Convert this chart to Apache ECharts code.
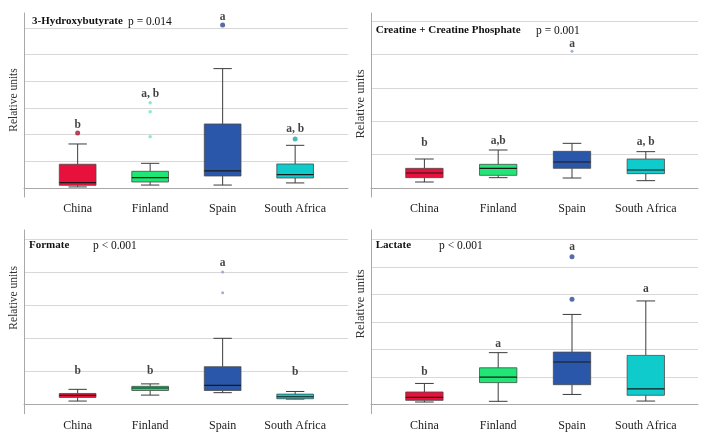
<!DOCTYPE html>
<html>
<head>
<meta charset="utf-8">
<script src="https://cdn.jsdelivr.net/npm/echarts@6/dist/echarts.min.js"></script>
<style>
html,body{margin:0;padding:0;background:#fff;}
#main{width:710px;height:441px;}
</style>
</head>
<body>
<div id="main"></div>
<script>
// ---------- DATA ----------
const categories = ['China', 'Finland', 'Spain', 'South Africa'];
const boxColors = ['#E8103C', '#20E676', '#2A57A9', '#0FCBCB'];

// [min, Q1, median, Q3, max] per category
const hbStats = [[0.04, 0.10, 0.20, 0.89, 1.65], [0.11, 0.225, 0.39, 0.625, 0.925], [0.11, 0.45, 0.64, 2.40, 4.475], [0.19, 0.375, 0.50, 0.90, 1.60]];
const hbOutliers = [[0, 2.06], [1, 3.20], [1, 2.86], [1, 1.925], [2, 6.11], [3, 1.84]];
const hbLetters = ['b', 'a, b', 'a', 'a, b'];
const hbLetterY = [2.375, 3.54, 6.41, 2.21];

const crStats = [[0.18, 0.31, 0.45, 0.59, 0.87], [0.31, 0.38, 0.59, 0.71, 1.14], [0.30, 0.59, 0.78, 1.10, 1.34], [0.22, 0.43, 0.54, 0.87, 1.09]];
const crOutliers = [[2, 4.10]];
const crLetters = ['b', 'a,b', 'a', 'a, b'];
const crLetterY = [1.35, 1.40, 4.32, 1.37];

const foStats = [[0.10, 0.21, 0.27, 0.33, 0.455], [0.28, 0.42, 0.495, 0.545, 0.62], [0.354, 0.42, 0.576, 1.14, 2.00], [0.16, 0.17, 0.23, 0.31, 0.39]];
const foOutliers = [[2, 4.01], [2, 3.38]];
const foLetters = ['b', 'b', 'a', 'b'];
const foLetterY = [1.01, 1.01, 4.29, 0.98];

const laStats = [[0.085, 0.145, 0.255, 0.45, 0.76], [0.11, 0.79, 0.99, 1.33, 1.88], [0.36, 0.715, 1.54, 1.90, 3.27], [0.12, 0.33, 0.56, 1.78, 3.76]];
const laOutliers = [[2, 5.37], [2, 3.82]];
const laLetters = ['b', 'a', 'a', 'a'];
const laLetterY = [1.18, 2.21, 5.72, 4.18];

const hbGridVals = [0, 1, 2, 3, 4, 5, 6];
const crGridVals = [0, 1, 2, 3, 4, 5];
const foGridVals = [0, 1, 2, 3, 4, 5];
const laGridVals = [0, 1, 2, 3, 4, 5, 6];

// ---------- LAYOUT ----------
const FONT = '"Liberation Serif", "DejaVu Serif", serif';
const panels = [
  { stats: hbStats, outliers: hbOutliers, letters: hbLetters, letterY: hbLetterY, gridVals: hbGridVals,
    outlierColors: ['#B0102E', '#66E8C0', '#2A4A94', '#1FA8A8'], outlierSize: [5, 3.5, 5, 5],
    name: '3-Hydroxybutyrate', p: 'p = 0.014', nameX: 32, pX: 128, titleY: 16,
    outer: { left: 24, top: 13, width: 324, height: 184 }, inner: { left: 41.4, width: 290 },
    yMin: -0.3375, yMax: 6.56, axisNameSize: 11.5, axisNamePad: [0, 0, 0, 10] },
  { stats: crStats, outliers: crOutliers, letters: crLetters, letterY: crLetterY, gridVals: crGridVals,
    outlierColors: ['#8C9BD0', '#8C9BD0', '#8C9BD0', '#8C9BD0'], outlierSize: [3, 3, 3, 3],
    name: 'Creatine + Creatine Phosphate', p: 'p = 0.001', nameX: 375.7, pX: 536, titleY: 25,
    outer: { left: 371, top: 13, width: 327, height: 184 }, inner: { left: 387.5, width: 295.2 },
    yMin: -0.27, yMax: 5.25, axisNameSize: 12.5, axisNamePad: [0, 0, 0, 2] },
  { stats: foStats, outliers: foOutliers, letters: foLetters, letterY: foLetterY, gridVals: foGridVals,
    outlierColors: ['#8C9BD0', '#8C9BD0', '#8C9BD0', '#8C9BD0'], outlierSize: [3, 3, 3, 3],
    name: 'Formate', p: 'p < 0.001', nameX: 29, pX: 93, titleY: 240,
    outer: { left: 24, top: 230, width: 324, height: 183.7 }, inner: { left: 41.4, width: 290 },
    yMin: -0.283, yMax: 5.28, axisNameSize: 11.5, axisNamePad: [0, 0, 0, 48] },
  { stats: laStats, outliers: laOutliers, letters: laLetters, letterY: laLetterY, gridVals: laGridVals,
    outlierColors: ['#2A4A94', '#2A4A94', '#2A4A94', '#2A4A94'], outlierSize: [5, 5, 5, 5],
    name: 'Lactate', p: 'p < 0.001', nameX: 375.7, pX: 439, titleY: 240,
    outer: { left: 371, top: 230, width: 327, height: 183.7 }, inner: { left: 387.5, width: 295.2 },
    yMin: -0.34, yMax: 6.34, axisNameSize: 12.5, axisNamePad: [0, 0, 0, 36] }
];

// ---------- BUILD ----------
const option = { animation: false, backgroundColor: '#fff', title: [], grid: [], xAxis: [], yAxis: [], series: [] };

function makeRender(colors) {
  return function (params, api) {
    const c = api.value(0);
    const mn = api.coord([c, api.value(1)]);
    const q1 = api.coord([c, api.value(2)]);
    const md = api.coord([c, api.value(3)]);
    const q3 = api.coord([c, api.value(4)]);
    const mx = api.coord([c, api.value(5)]);
    const band = api.size([1, 0])[0];
    const hw = band * 0.253;
    const cw = hw * 0.5;
    const x = mn[0];
    const wStyle = { stroke: '#3c3c3c', lineWidth: 1 };
    return {
      type: 'group',
      children: [
        { type: 'line', shape: { x1: x, y1: mx[1], x2: x, y2: q3[1] }, style: wStyle },
        { type: 'line', shape: { x1: x, y1: q1[1], x2: x, y2: mn[1] }, style: wStyle },
        { type: 'line', shape: { x1: x - cw, y1: mx[1], x2: x + cw, y2: mx[1] }, style: wStyle },
        { type: 'line', shape: { x1: x - cw, y1: mn[1], x2: x + cw, y2: mn[1] }, style: wStyle },
        { type: 'rect', shape: { x: x - hw, y: q3[1], width: 2 * hw, height: q1[1] - q3[1] },
          style: { fill: colors[c], stroke: '#4a4a4a', lineWidth: 0.8 } },
        { type: 'line', shape: { x1: x - hw, y1: md[1], x2: x + hw, y2: md[1] }, style: { stroke: '#1a1a1a', lineWidth: 1.2 } }
      ]
    };
  };
}

panels.forEach((pn, i) => {
  const og = i * 2, ig = i * 2 + 1;
  option.grid.push({ left: pn.outer.left, top: pn.outer.top, width: pn.outer.width, height: pn.outer.height, containLabel: false });
  option.grid.push({ left: pn.inner.left, top: pn.outer.top, width: pn.inner.width, height: pn.outer.height, containLabel: false });

  // outer axes: frame + gridlines
  option.xAxis.push({ gridIndex: og, type: 'value', min: 0, max: 1, z: 0,
    axisLine: { show: true, lineStyle: { color: '#a8a8a8', width: 1 } },
    axisTick: { show: false }, axisLabel: { show: false }, splitLine: { show: false } });
  option.yAxis.push({ gridIndex: og, type: 'value', min: pn.yMin, max: pn.yMax, z: 0,
    axisLine: { show: true, lineStyle: { color: '#a8a8a8', width: 1 } },
    axisTick: { show: false }, axisLabel: { show: false }, splitLine: { show: false },
    name: 'Relative units', nameLocation: 'middle', nameGap: 4,
    nameTextStyle: { fontFamily: FONT, fontSize: pn.axisNameSize, color: '#333', padding: pn.axisNamePad } });
  // inner axes: categories
  option.xAxis.push({ gridIndex: ig, type: 'category', data: categories,
    axisLine: { show: false }, axisTick: { show: false }, splitLine: { show: false },
    axisLabel: { interval: 0, fontFamily: FONT, fontSize: 12, color: '#222', margin: 6 } });
  option.yAxis.push({ gridIndex: ig, type: 'value', min: pn.yMin, max: pn.yMax, show: false, splitLine: { show: false } });

  // gridlines
  option.series.push({ type: 'line', xAxisIndex: og, yAxisIndex: og, data: [], silent: true, z: 0,
    markLine: { silent: true, symbol: 'none', animation: false, z: 0, label: { show: false },
      lineStyle: { color: '#d8d8d8', type: 'solid', width: 1 },
      data: pn.gridVals.map(v => ({ yAxis: v })) } });

  // boxes
  option.series.push({ type: 'custom', xAxisIndex: ig, yAxisIndex: ig, z: 10,
    renderItem: makeRender(boxColors),
    encode: { x: 0, y: [1, 2, 3, 4, 5] },
    data: pn.stats.map((s, k) => [k].concat(s)) });

  // outliers
  option.series.push({ type: 'scatter', xAxisIndex: ig, yAxisIndex: ig, z: 11,
    data: pn.outliers.map(o => ({ value: o, symbolSize: pn.outlierSize[o[0]], itemStyle: { color: pn.outlierColors[o[0]] } })) });

  // significance letters
  option.series.push({ type: 'scatter', xAxisIndex: ig, yAxisIndex: ig, z: 12, symbolSize: 0, silent: true,
    data: pn.letters.map((t, k) => ({ value: [k, pn.letterY[k]], name: t })),
    label: { show: true, position: 'inside', formatter: p => p.name,
      fontFamily: FONT, fontWeight: 'bold', fontSize: 11.5, color: '#111' } });

  // titles
  option.title.push({ text: pn.name, left: pn.nameX, top: pn.titleY, padding: 0,
    textStyle: { fontFamily: FONT, fontWeight: 'bold', fontSize: 11, color: '#111' } });
  option.title.push({ text: pn.p, left: pn.pX, top: pn.titleY, padding: 0,
    textStyle: { fontFamily: FONT, fontWeight: 'normal', fontSize: 11.5, color: '#111' } });
});

const chart = echarts.init(document.getElementById('main'), null, { renderer: 'canvas' });
chart.setOption(option);
</script>
</body>
</html>
